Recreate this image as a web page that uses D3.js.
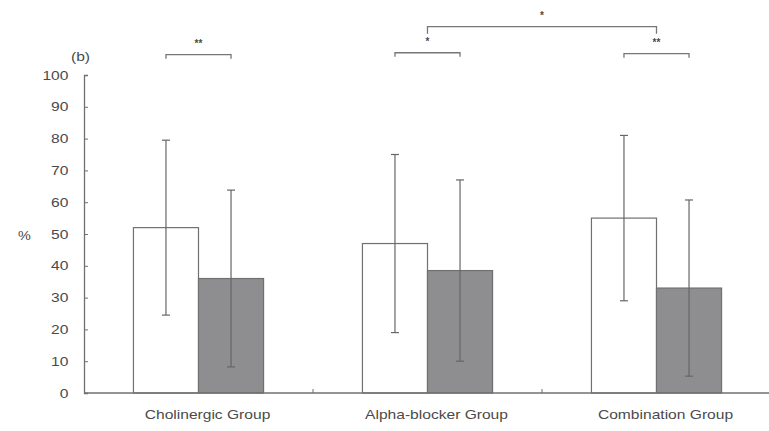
<!DOCTYPE html>
<html>
<head>
<meta charset="utf-8">
<script src="https://cdn.jsdelivr.net/npm/d3@7"></script>
<style>
  body { margin: 0; background: #fff; }
  text { font-family: "Liberation Sans", Arial, sans-serif; fill: #4a4a4a; }
</style>
</head>
<body>
<div id="drawing_region"></div>
<script>
// data
const groups = ['Cholinergic Group', 'Alpha-blocker Group', 'Combination Group'];
const series = ['white', 'gray'];
const means  = [[52, 36], [47, 38.5], [55, 33]];
const sds    = [[27.5, 27.8], [28, 28.5], [26, 27.7]];
const yticks = [0, 10, 20, 30, 40, 50, 60, 70, 80, 90, 100];
// significance brackets: [group, from, to, value level, label]
const pairs = [
    [0, 'white', 'gray', 106.4, '**'],
    [1, 'white', 'gray', 107.0, '*'],
    [2, 'white', 'gray', 106.7, '**']
];
const between = [[1, 2, 115.2, '*']];

const config = {
    parent: '#drawing_region',
    width: 769,
    height: 431,
    margin: {top: 75, right: -2, bottom: 38, left: 84}
};

// the picture is a little wider than tall, so text is stretched sideways
const stretch = 1.2;

const svg = d3.select(config.parent).append('svg')
    .attr('width', config.width)
    .attr('height', config.height);

const inner_width = config.width - config.margin.left - config.margin.right;
const inner_height = config.height - config.margin.top - config.margin.bottom;

const chart = svg.append('g')
    .attr('transform', `translate(${config.margin.left}, ${config.margin.top})`);

const x0 = d3.scaleBand().domain(d3.range(groups.length)).range([0, inner_width]);
const x1 = d3.scaleBand().domain(series).range([0, x0.bandwidth()]).paddingOuter(0.76);
const y = d3.scaleLinear().domain([0, 100]).range([inner_height, 0]);

const line_color = '#707070';

// stretched text helper
const label = (parent, x, yy, txt, size, anchor) => parent.append('text')
    .attr('transform', `translate(${x}, ${yy}) scale(${stretch}, 1)`)
    .attr('text-anchor', anchor || 'start')
    .attr('font-size', size)
    .text(txt);

// y axis
const yaxis = chart.append('g')
    .call(d3.axisLeft(y).tickValues(yticks).tickSize(-4).tickPadding(13));
yaxis.select('.domain').attr('stroke', line_color).attr('stroke-width', 1.3);
yaxis.selectAll('.tick line').attr('stroke', line_color);
yaxis.selectAll('.tick text')
    .attr('font-size', 13)
    .attr('fill', '#4a4a4a')
    .attr('transform', `scale(${stretch}, 1)`);

// bars
const bars = [];
means.forEach((m, gi) => m.forEach((v, si) => bars.push({g: gi, s: series[si], v: v, sd: sds[gi][si]})));

chart.selectAll('rect.bar').data(bars).join('rect')
    .attr('class', 'bar')
    .attr('x', d => x0(d.g) + x1(d.s))
    .attr('y', d => y(d.v))
    .attr('width', x1.bandwidth())
    .attr('height', d => y(0) - y(d.v))
    .attr('fill', d => d.s === 'white' ? '#ffffff' : '#8e8e91')
    .attr('stroke', line_color)
    .attr('stroke-width', 1.2);

// error bars
const cx = d => x0(d.g) + x1(d.s) + x1.bandwidth() / 2;
const err = chart.selectAll('g.err').data(bars).join('g').attr('class', 'err');
err.append('line')
    .attr('x1', cx).attr('x2', cx)
    .attr('y1', d => y(d.v + d.sd)).attr('y2', d => y(d.v - d.sd));
err.append('line')
    .attr('x1', d => cx(d) - 4).attr('x2', d => cx(d) + 4)
    .attr('y1', d => y(d.v + d.sd)).attr('y2', d => y(d.v + d.sd));
err.append('line')
    .attr('x1', d => cx(d) - 4).attr('x2', d => cx(d) + 4)
    .attr('y1', d => y(d.v - d.sd)).attr('y2', d => y(d.v - d.sd));
err.selectAll('line').attr('stroke', '#666').attr('stroke-width', 1.2);

// x axis
const xaxis = chart.append('g').attr('transform', `translate(0, ${inner_height})`);
xaxis.append('line')
    .attr('x1', 0).attr('x2', inner_width)
    .attr('stroke', line_color).attr('stroke-width', 1.3);
xaxis.selectAll('line.tick').data(d3.range(1, groups.length)).join('line')
    .attr('class', 'tick')
    .attr('x1', d => x0(d)).attr('x2', d => x0(d))
    .attr('y1', 0).attr('y2', -4)
    .attr('stroke', line_color);
groups.forEach((g, i) => label(xaxis, x0(i) + x0.bandwidth() / 2 + 9, 26, g, 13, 'middle'));

// brackets
const bracket = (xa, xb, yy, drop, txt) => {
    const g = chart.append('g');
    g.append('path')
        .attr('d', `M${xa},${yy + drop}V${yy}H${xb}V${yy + drop}`)
        .attr('fill', 'none')
        .attr('stroke', '#777')
        .attr('stroke-width', 1.3);
    g.append('text')
        .attr('x', (xa + xb) / 2)
        .attr('y', yy - 8)
        .attr('text-anchor', 'middle')
        .attr('font-size', 10)
        .attr('font-weight', 'bold')
        .attr('fill', '#555')
        .text(txt);
};
pairs.forEach(p => {
    const xa = x0(p[0]) + x1(p[1]) + x1.bandwidth() / 2;
    const xb = x0(p[0]) + x1(p[2]) + x1.bandwidth() / 2;
    bracket(xa, xb, y(p[3]), 4, p[4]);
});
between.forEach(b => {
    const xa = x0(b[0]) + x0.bandwidth() / 2;
    const xb = x0(b[1]) + x0.bandwidth() / 2;
    bracket(xa, xb, y(b[2]), 7, b[3]);
});

// labels
label(svg, 71, 61, '(b)', 13);
label(svg, 18, 240, '%', 12);
</script>
</body>
</html>
